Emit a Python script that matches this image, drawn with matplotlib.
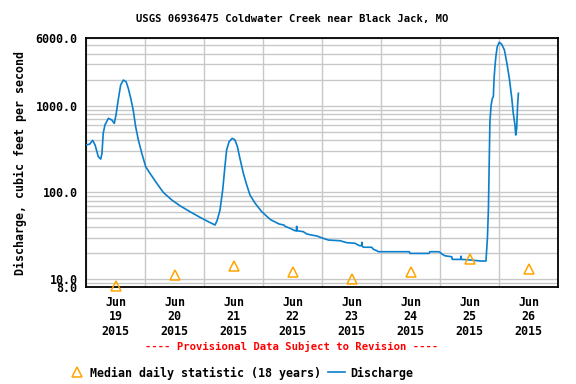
import matplotlib
matplotlib.use("Agg")
import matplotlib.pyplot as plt
import matplotlib.dates as mdates
from matplotlib.ticker import FixedLocator, FuncFormatter, NullFormatter
from matplotlib.lines import Line2D
import pandas as pd

# ---------------- data ----------------
base = pd.Timestamp("2015-06-19 00:00")

# discharge (cfs) : hours since 2015-06-19 00:00, values
q_hours = [0, 1.5, 2.7, 3.7, 5.0, 6.0, 6.5, 7.0, 7.7, 9.1, 10.5, 11.5, 12.2, 13.1,
           14.1, 15.2, 16.3, 17.2, 18.2, 19.2, 20.2, 21.3, 22.7, 24.3, 26.0, 28.8,
           31.4, 34.9, 38.2, 42.3, 46.4, 49.8, 52.5, 53.4, 54.5, 55.6, 56.5, 57.2,
           58.2, 59.5, 60.6, 61.6, 62.6, 64.0, 65.4, 66.7, 68.8, 71.5, 74.9, 76.5,
           78.6, 80.5, 81.0, 83.0, 85.0, 85.6, 85.7, 85.8, 88.4, 89.8, 91.8, 93.9,
           96.5, 98.6, 103.3, 106.1, 109.4, 111.2, 112.1, 112.2, 112.3, 112.8, 116.2,
           116.9, 118.5, 119.0, 131.5, 131.8, 139.5, 139.9, 143.5, 144.0, 145.0,
           146.0, 148.8, 149.0, 152.5, 152.6, 152.7, 156.9, 160.3, 162.7, 163.3,
           163.7, 163.9, 164.3, 164.8, 165.3, 165.7, 166.0, 166.4, 166.8, 167.3,
           168.1, 169.1, 170.2, 171.1, 172.2, 173.2, 173.8, 174.5, 174.8, 175.2,
           175.6, 175.9]
q_values = [352, 360, 398, 352, 258, 242, 282, 480, 598, 715, 684, 625, 780, 1164,
            1733, 1977, 1892, 1588, 1217, 891, 572, 402, 282, 197, 166, 127,
            100, 81.5, 70, 59.7, 51.4, 45.7, 41.9, 47.9, 62.4, 106, 197, 308,
            384, 420, 402, 336, 247, 166, 121, 93, 74.6, 59.7, 48.7, 46,
            43, 41.9, 40.5, 38.4, 36.0, 36.0, 40.5, 36.0, 35.1, 33.0, 32.1, 31.3,
            29.4, 28.1, 27.6, 26.2, 25.8, 24.2, 24.2, 26.5, 24.2, 23.2, 23.2,
            22.0, 21.0, 20.6, 20.6, 19.7, 19.7, 20.6, 20.6, 20.3, 19.2,
            18.5, 18.0, 16.8, 16.8, 18.3, 16.8, 16.5, 16.1, 16.1, 29.9,
            65, 139, 653, 1019, 1217, 1270, 2070, 2951, 3846, 4800,
            5400, 5120, 4396, 3221, 2070, 1217, 817, 598, 458, 548,
            1066, 1390]

# median daily statistic (18 years), plotted at noon of each day
median_days = ["2015-06-19", "2015-06-20", "2015-06-21", "2015-06-22",
               "2015-06-23", "2015-06-24", "2015-06-25", "2015-06-26"]
median_values = [8.3, 11.2, 14.2, 12.0, 10.1, 12.0, 17.0, 13.0]

y_ticks = [8, 10, 100, 1000, 6000]
y_minor = [9, 20, 30, 40, 50, 60, 70, 80, 90, 200, 300, 400, 500, 600, 700, 800,
           900, 2000, 3000, 4000, 5000]

title = "USGS 06936475 Coldwater Creek near Black Jack, MO"
ylabel = "Discharge, cubic feet per second"
provisional = "---- Provisional Data Subject to Revision ----"
leg_median = "Median daily statistic (18 years)"
leg_q = "Discharge"

# ---------------- plot ----------------
FONT = "DejaVu Sans Mono"
fs = 8.4
blue = "#0a7fcc"
orange = "#ffa500"
grid_c = "#c8c8c8"

fig = plt.figure(figsize=(5.76, 3.84), dpi=100)
ax = fig.add_axes([86 / 576, 1 - 287.3 / 384, (558 - 86) / 576, (287.3 - 38.3) / 384])

q_times = [base + pd.Timedelta(hours=h) for h in q_hours]
m_times = [pd.Timestamp(d) + pd.Timedelta(hours=12) for d in median_days]

ax.set_yscale("log")
ax.plot(q_times, q_values, color=blue, lw=1.2, zorder=3)
ax.plot(m_times, median_values, linestyle="none", marker="^", markersize=7,
        markerfacecolor="none", markeredgecolor=orange, markeredgewidth=1.1,
        clip_on=False, zorder=4)

ax.set_xlim(base, base + pd.Timedelta(days=8))
ax.set_ylim(8, 6000)

# y axis
ax.yaxis.set_major_locator(FixedLocator(y_ticks))
ax.yaxis.set_major_formatter(FuncFormatter(lambda v, p: f"{v:.1f}"))
ax.yaxis.set_minor_locator(FixedLocator(y_minor))
ax.yaxis.set_minor_formatter(NullFormatter())

# x axis: labels at noon, grid at midnight
ax.xaxis.set_major_locator(mdates.HourLocator(byhour=[12]))
ax.xaxis.set_major_formatter(mdates.DateFormatter("%b\n%d\n%Y"))
ax.xaxis.set_minor_locator(mdates.DayLocator())

ax.grid(False)
ax.yaxis.grid(True, which="both", color=grid_c, lw=1.0)
ax.xaxis.grid(True, which="minor", color=grid_c, lw=1.0)
ax.set_axisbelow(True)

ax.tick_params(axis="both", which="both", length=0)
ax.tick_params(axis="y", pad=6)
ax.tick_params(axis="x", pad=6)
for lab in ax.get_xticklabels() + ax.get_yticklabels():
    lab.set_fontfamily(FONT)
    lab.set_fontweight("bold")
    lab.set_fontsize(fs)
for lab in ax.get_xticklabels():
    lab.set_linespacing(1.15)

for s in ax.spines.values():
    s.set_color("black")
    s.set_linewidth(1.3)

ax.set_ylabel(ylabel, fontfamily=FONT, fontweight="bold", fontsize=fs, labelpad=6)

fig.text(292 / 576, 1 - 19 / 384, title, ha="center", va="center",
         fontfamily=FONT, fontweight="bold", fontsize=7.6)
fig.text(291.5 / 576, 1 - 346 / 384, provisional, ha="center", va="center",
         fontfamily=FONT, fontweight="bold", fontsize=7.6, color="red")

handles = [Line2D([], [], linestyle="none", marker="^", markersize=7,
                  markerfacecolor="none", markeredgecolor=orange, markeredgewidth=1.1),
           Line2D([], [], color=blue, lw=1.2)]
fig.legend(handles, [leg_median, leg_q], ncol=2, frameon=False, loc="center",
           bbox_to_anchor=(241 / 576, 1 - 373 / 384), handlelength=1.4,
           handletextpad=0.5, columnspacing=0.6,
           prop={"family": FONT, "weight": "bold", "size": fs})

fig.savefig("out.png", dpi=100)
